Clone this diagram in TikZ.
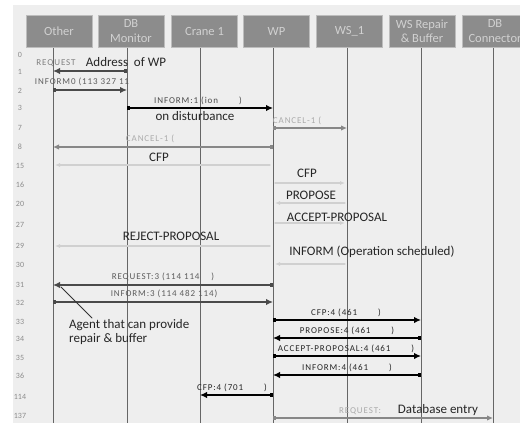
\documentclass[tikz,border=0pt]{standalone}
\usepackage{fontspec}
\setmainfont{Carlito}
\usepackage{tkz-euclide}
\usetikzlibrary{arrows.meta}

\definecolor{panel}{HTML}{EEEEEE}
\definecolor{boxgray}{HTML}{8C8C8C}
\definecolor{boxedge}{HTML}{BDBDBD}
\definecolor{lifegray}{HTML}{666666}
\definecolor{msgdarkc}{HTML}{4A4A4A}
\definecolor{msgmidc}{HTML}{878787}
\definecolor{msgfaintc}{HTML}{D0D0D0}
\definecolor{tagc}{HTML}{5C5C5C}
\definecolor{tagpale}{HTML}{ABABAB}

\begin{document}
\begin{tikzpicture}[x=1pt,y=-1pt,
    lifebox/.style={draw=boxedge,fill=boxgray,line width=1pt,minimum width=66pt,
      minimum height=32pt,inner sep=0pt,text=white!82!black,align=center,
      font=\fontsize{12.5}{14.5}\selectfont},
    lifeline/.style={draw=lifegray,line width=1pt},
    msgdark/.style={draw=msgdarkc,line width=2pt,
      arrows={Square[length=3pt,width=4.5pt]-Latex[length=7pt,width=6.5pt]}},
    msgblack/.style={draw=black,line width=2pt,
      arrows={Square[length=3pt,width=4.5pt]-Latex[length=7pt,width=6.5pt]}},
    msgmid/.style={draw=msgmidc,line width=1.5pt,
      arrows={Square[length=3pt,width=4pt]-Latex[length=6pt,width=5.5pt]}},
    msgfaint/.style={draw=msgfaintc,line width=1.2pt,
      arrows={-Latex[length=5pt,width=4pt]}},
    pointer/.style={draw=black!80,line width=1pt},
    smalltag/.style={inner sep=0pt,text=tagc,
      font=\fontsize{9}{10}\selectfont\addfontfeature{LetterSpace=10}},
    bigtag/.style={inner sep=0pt,text=black!85,font=\fontsize{13}{14}\selectfont},
    rownum/.style={inner sep=0pt,text=black!45,font=\fontsize{8}{9}\selectfont}]

  \useasboundingbox (0,0) rectangle (520,423);
  \fill[panel] (13,5) rectangle (520,423);

  \tkzDefPoint(53,47){OtT}  \tkzDefPoint(53,423){OtB}
  \tkzDefPoint(127,47){DmT} \tkzDefPoint(127,423){DmB}
  \tkzDefPoint(200,47){CrT} \tkzDefPoint(200,423){CrB}
  \tkzDefPoint(273,47){WpT} \tkzDefPoint(273,423){WpB}
  \tkzDefPoint(347,47){WsT} \tkzDefPoint(347,423){WsB}
  \tkzDefPoint(421,47){WrT} \tkzDefPoint(421,423){WrB}
  \tkzDefPoint(493,47){DcT} \tkzDefPoint(493,423){DcB}
  \tkzDrawSegments[lifeline](OtT,OtB DmT,DmB CrT,CrB WpT,WpB WsT,WsB WrT,WrB DcT,DcB)

  \node[lifebox] (other)  at (59,31)    {Other};
  \node[lifebox] (dbmon)  at (131,31)   {DB\\Monitor};
  \node[lifebox] (crane)  at (204.5,31) {Crane 1};
  \node[lifebox] (wp)     at (276.5,31) {WP};
  \node[lifebox] (ws)     at (349.5,31) {WS\_1};
  \node[lifebox] (wsrep)  at (422,31)   {WS Repair\\\& Buffer};
  \node[lifebox] (dbconn) at (495,31)   {DB\\Connector};

  \node[rownum] (n0)   at (20,55)  {0};
  \node[rownum] (n1)   at (20,72)  {1};
  \node[rownum] (n2)   at (20,91)  {2};
  \node[rownum] (n3)   at (20,108) {3};
  \node[rownum] (n7)   at (20,128) {7};
  \node[rownum] (n8)   at (20,147) {8};
  \node[rownum] (n15)  at (20,166) {15};
  \node[rownum] (n16)  at (20,185) {16};
  \node[rownum] (n20)  at (20,204) {20};
  \node[rownum] (n27)  at (20,225) {27};
  \node[rownum] (n29)  at (20,246) {29};
  \node[rownum] (n30)  at (20,265) {30};
  \node[rownum] (n31)  at (20,285) {31};
  \node[rownum] (n32)  at (20,303) {32};
  \node[rownum] (n33)  at (20,322) {33};
  \node[rownum] (n34)  at (20,339) {34};
  \node[rownum] (n35)  at (20,358) {35};
  \node[rownum] (n36)  at (20,376) {36};
  \node[rownum] (n114) at (20,397) {114};
  \node[rownum] (n137) at (20,416) {137};

  \tkzDefPoint(127,71){Rq1a}   \tkzDefPoint(53,71){Rq1b}
  \tkzDefPoint(53,90){In2a}    \tkzDefPoint(127,90){In2b}
  \tkzDefPoint(127,108){In3a}  \tkzDefPoint(273,108){In3b}
  \tkzDefPoint(273,128){Ca7a}  \tkzDefPoint(347,128){Ca7b}
  \tkzDefPoint(273,147){Ca8a}  \tkzDefPoint(53,147){Ca8b}
  \tkzDefPoint(270,165){Cf15a} \tkzDefPoint(55,165){Cf15b}
  \tkzDefPoint(275,183){Cf16a} \tkzDefPoint(345,183){Cf16b}
  \tkzDefPoint(345,203){Pr20a} \tkzDefPoint(275,203){Pr20b}
  \tkzDefPoint(275,223){Ac27a} \tkzDefPoint(345,223){Ac27b}
  \tkzDefPoint(270,246){Rj29a} \tkzDefPoint(55,246){Rj29b}
  \tkzDefPoint(345,264){In30a} \tkzDefPoint(275,264){In30b}
  \tkzDefPoint(273,285){Rq31a} \tkzDefPoint(53,285){Rq31b}
  \tkzDefPoint(53,302){In32a}  \tkzDefPoint(273,302){In32b}
  \tkzDefPoint(273,320){Cf33a} \tkzDefPoint(421,320){Cf33b}
  \tkzDefPoint(421,338){Pr34a} \tkzDefPoint(273,338){Pr34b}
  \tkzDefPoint(273,356){Ac35a} \tkzDefPoint(421,356){Ac35b}
  \tkzDefPoint(421,375){In36a} \tkzDefPoint(273,375){In36b}
  \tkzDefPoint(273,395){Cf114a} \tkzDefPoint(200,395){Cf114b}
  \tkzDefPoint(273,418){Rq137a} \tkzDefPoint(493,418){Rq137b}

  \tkzDrawSegments[msgdark](Rq1a,Rq1b In2a,In2b Rq31a,Rq31b In32a,In32b)
  \tkzDrawSegment[msgblack](In3a,In3b)
  \tkzDrawSegments[msgmid](Ca7a,Ca7b Ca8a,Ca8b Rq137a,Rq137b)
  \tkzDrawSegments[msgfaint](Cf15a,Cf15b Cf16a,Cf16b Pr20a,Pr20b Ac27a,Ac27b Rj29a,Rj29b In30a,In30b)
  \tkzDrawSegments[msgblack](Cf33a,Cf33b Pr34a,Pr34b Ac35a,Ac35b In36a,In36b Cf114a,Cf114b)

  \node[smalltag,text=black!50] (reqtag) at (56,63) {REQUEST};
  \node[bigtag] (addr) at (126,62) {Address\ \ of WP};
  \node[smalltag] (inf0) at (82,82) {INFORM0 (113 327 11};
  \node[smalltag,text=black!70] (inf1) at (198,101) {INFORM:1 (ion \qquad)};
  \node[bigtag] (disturb) at (195,116) {on disturbance};
  \node[smalltag,text=tagpale] (can7) at (297,121) {CANCEL-1 (};
  \node[smalltag,text=tagpale] (can8) at (150,139) {CANCEL-1 (};
  \node[bigtag] (cfp8) at (159,157) {CFP};
  \node[bigtag] (cfp16) at (307,173) {CFP};
  \node[bigtag] (prop20) at (311,195) {PROPOSE};
  \node[bigtag] (acc27) at (337,217) {ACCEPT-PROPOSAL};
  \node[bigtag] (rej29) at (171,236) {REJECT-PROPOSAL};
  \node[bigtag] (inf30) at (372,252) {INFORM (Operation scheduled)};
  \node[smalltag] (req31) at (163,277) {REQUEST:3 (114 114 \quad)};
  \node[smalltag] (inf32) at (164,294) {INFORM:3 (114 482 114)};
  \node[smalltag,text=black!85] (cfp33) at (346,313) {CFP:4 (461 \qquad)};
  \node[smalltag,text=black!85] (prop34) at (347,331) {PROPOSE:4 (461 \qquad)};
  \node[smalltag,text=black!85] (acc35) at (346,349) {ACCEPT-PROPOSAL:4 (461 \qquad)};
  \node[smalltag,text=black!85] (inf36) at (347,368) {INFORM:4 (461 \qquad)};
  \node[smalltag,text=black!85] (cfp114) at (232,388) {CFP:4 (701 \qquad)};
  \node[smalltag,text=tagpale] (req137) at (360,411) {REQUEST:};
  \node[bigtag] (dbentry) at (438,410) {Database entry};

  \node[bigtag,anchor=north west,align=left] (agent) at (69,319) {Agent that can provide\\repair \& buffer};
  \tkzDefPoint(61,287){AgA} \tkzDefPoint(92,318){AgB}
  \tkzDrawSegment[pointer](AgA,AgB)
\end{tikzpicture}
\end{document}
